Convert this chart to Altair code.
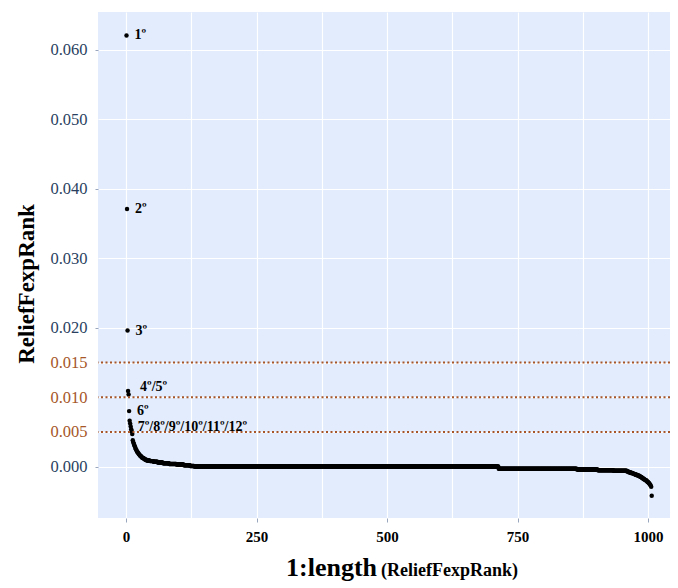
import altair as alt
import pandas as pd

# ---- data ----
head_values = [0.0621, 0.0371, 0.0196, 0.0109, 0.0104, 0.0080,
               0.0066, 0.0062, 0.0058, 0.0054, 0.0051, 0.0047]          # ranks 1-12
decay_values = [0.0038, 0.0035, 0.0033, 0.0031, 0.0029, 0.0027, 0.0025,
                0.0024, 0.0022, 0.0021, 0.0020, 0.0019, 0.0018, 0.0017,
                0.0016, 0.0015, 0.0015, 0.0014, 0.0013, 0.0013, 0.0012,
                0.0012, 0.0011, 0.0011, 0.0010, 0.0010, 0.0010]          # ranks 13-39
plateau_levels = [0.0009, 0.0008, 0.0007, 0.0006, 0.0005, 0.0004, 0.0003,
                  0.0002, 0.0001, 0.00003, -0.0003, -0.0004, -0.0005, -0.0006]
plateau_counts = [6, 7, 8, 10, 12, 14, 14, 12, 8, 583, 150, 40, 30, 26]   # ranks 40-959
tail_values = [-0.0007, -0.0007, -0.0007, -0.0008, -0.0008, -0.0008, -0.0008, -0.0009, -0.0009, -0.0009,
               -0.0009, -0.0010, -0.0010, -0.0010, -0.0011, -0.0011, -0.0011, -0.0012, -0.0012, -0.0012,
               -0.0012, -0.0013, -0.0013, -0.0013, -0.0014, -0.0014, -0.0015, -0.0015, -0.0016, -0.0016,
               -0.0017, -0.0017, -0.0018, -0.0018, -0.0019, -0.0019, -0.0020, -0.0020, -0.0021, -0.0022,
               -0.0022, -0.0023, -0.0024, -0.0025, -0.0026, -0.0027, -0.0029, -0.0042]  # ranks 960-1007

threshold_values = [0.015, 0.010, 0.005]
y_tick_values = [0.0, 0.005, 0.010, 0.015, 0.020, 0.030, 0.040, 0.050, 0.060]
x_grid_values = [0, 125, 250, 375, 500, 625, 750, 875, 1000]

label_texts = ["1º", "2º", "3º", "4º/5º", "6º", "7º/8º/9º/10º/11º/12º"]
label_ranks = [1, 2, 3, 4, 6, 7]
label_group = ["a", "a", "a", "b", "a", "c"]

x_title_main = "1:length"
x_title_sub = "(ReliefFexpRank)"
y_title = "ReliefFexpRank"

# ---- build tables ----
plateau = [lv for lv, c in zip(plateau_levels, plateau_counts) for _ in range(c)]
values = head_values + decay_values + plateau + tail_values
df = pd.DataFrame({"rank": list(range(1, len(values) + 1)), "value": values})

lab = pd.DataFrame({"text": label_texts, "rank": label_ranks, "group": label_group})
lab["value"] = [values[r - 1] for r in label_ranks]

thr = pd.DataFrame({"y": threshold_values})

W, H = 572, 506
FONT = "Liberation Serif"
BROWN = "#A65628"
NAVY = "#2a3f5f"

x_scale = alt.Scale(domain=[-53.6, 1042.0], nice=False, zero=False)
y_scale = alt.Scale(domain=[-0.00739, 0.06547], nice=False, zero=False)

thr_test = "abs(datum.value-0.015)<1e-6 || abs(datum.value-0.01)<1e-6 || abs(datum.value-0.005)<1e-6"

x_axis = alt.Axis(
    values=x_grid_values, title=None, format="d",
    labelExpr="datum.value % 250 == 0 ? datum.label : ''",
    labelFont=FONT, labelFontSize=15, labelFontWeight="bold", labelColor="black",
    labelPadding=7, tickSize=4,
    tickColor=alt.condition("datum.value % 250 == 0", alt.value("#9aa6bd"), alt.value("transparent")),
    grid=True, gridColor="white", gridWidth=1.2, domain=False,
)
y_axis = alt.Axis(
    values=y_tick_values, title=None, format=".3f",
    labelFont=FONT, labelFontSize=16.5,
    labelColor=alt.condition(thr_test, alt.value(BROWN), alt.value(NAVY)),
    labelPadding=8, tickSize=3,
    tickColor=alt.condition("abs(datum.value*50 - round(datum.value*50)) < 1e-6", alt.value("#9aa6bd"), alt.value("transparent")),
    grid=True, gridColor="white", gridWidth=1.2, domain=False,
)

base_x = alt.X("rank:Q", scale=x_scale, axis=x_axis)
base_y = alt.Y("value:Q", scale=y_scale, axis=y_axis)

rules = alt.Chart(thr).mark_rule(color=BROWN, strokeDash=[2, 2.5], strokeWidth=2).encode(
    y=alt.Y("y:Q", scale=y_scale)
)

points = alt.Chart(df).mark_circle(size=20, color="black", opacity=1).encode(
    x=base_x, y=base_y
)

def label_layer(group, dx, dy):
    return alt.Chart(lab).transform_filter(f"datum.group == '{group}'").mark_text(
        align="left", baseline="middle", dx=dx, dy=dy,
        font=FONT, fontSize=14, fontWeight="bold", color="black"
    ).encode(
        x=alt.X("rank:Q", scale=x_scale),
        y=alt.Y("value:Q", scale=y_scale),
        text="text:N",
    )

labels_a = label_layer("a", 8, 0)
labels_b = label_layer("b", 12, -4)
labels_c = label_layer("c", 8, 6)

xt_main = alt.Chart(pd.DataFrame({"t": [x_title_main]})).mark_text(
    align="right", baseline="alphabetic", font=FONT, fontSize=26, fontWeight="bold", color="black"
).encode(text="t:N", x=alt.value(279), y=alt.value(564))

xt_sub = alt.Chart(pd.DataFrame({"t": [x_title_sub]})).mark_text(
    align="left", baseline="alphabetic", font=FONT, fontSize=18, fontWeight="bold", color="black"
).encode(text="t:N", x=alt.value(283), y=alt.value(564))

yt = alt.Chart(pd.DataFrame({"t": [y_title]})).mark_text(
    align="center", baseline="middle", angle=270, font=FONT, fontSize=23, fontWeight="bold", color="black"
).encode(text="t:N", x=alt.value(-71), y=alt.value(272))

chart = alt.layer(points, rules, labels_a, labels_b, labels_c, xt_main, xt_sub, yt).properties(
    width=W, height=H,
    autosize=alt.AutoSizeParams(type="none"),
    padding={"left": 90, "top": 4, "right": 0, "bottom": 70},
    background="white",
).configure_view(fill="#E2ECFC", stroke=None)

chart.save("out.html", embed_options={"renderer": "svg", "actions": False})
